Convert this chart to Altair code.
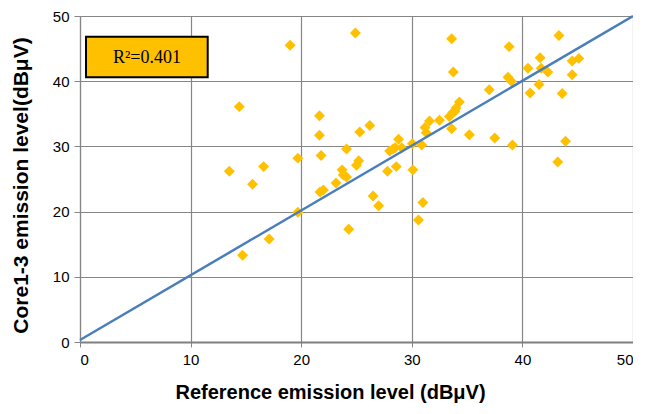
import altair as alt
import pandas as pd

# Reference emission level (dBµV) for each measured point
ref_level = [13.5, 14.4, 14.7, 15.6, 16.6, 17.1, 19.0, 19.7, 19.7, 21.65,
             21.65, 21.8, 21.7, 22.0, 23.15, 23.7, 23.8, 24.1, 24.1, 24.3,
             24.9, 25.0, 25.2, 25.3, 26.2, 26.5, 27.0, 27.8, 28.0, 28.3,
             28.5, 29.1, 28.6, 28.8, 30.1, 30.05, 30.6, 30.9, 31.0, 31.2,
             31.3, 31.6, 32.5, 33.4, 33.7, 33.9, 34.0, 34.3, 33.6, 33.6,
             33.75, 35.2, 37.0, 37.5, 38.8, 38.7, 39.0, 39.1, 40.5, 40.7,
             41.5, 41.6, 41.7, 42.3, 43.3, 43.2, 43.6, 43.9, 44.5, 45.1,
             44.5]
# Core1-3 emission level (dBµV) for each measured point
core_level = [26.2, 36.1, 13.3, 24.2, 26.9, 15.8, 45.5, 28.2, 19.9, 34.7,
              31.7, 28.6, 23.0, 23.3, 24.4, 26.4, 25.6, 25.3, 29.6, 17.3,
              47.4, 27.1, 27.8, 32.2, 33.2, 22.4, 20.9, 26.2, 29.3, 29.6,
              29.8, 29.8, 26.9, 31.1, 26.4, 30.4, 18.7, 30.2, 21.4, 32.9,
              32.1, 33.9, 34.0, 34.6, 35.2, 35.4, 35.9, 36.8, 32.7, 46.5,
              41.4, 31.8, 38.7, 31.3, 45.3, 40.6, 40.0, 30.2, 42.0, 38.2,
              39.5, 43.6, 42.0, 41.4, 47.0, 27.6, 38.1, 30.8, 43.1, 43.5,
              41.0]

# Reference line
fit_x = [0, 50]
fit_y = [0.3, 50]

axis_ticks = [0, 10, 20, 30, 40, 50]
r2_label = ["R\u00b2=0.401"]

pts = pd.DataFrame({"ref": ref_level, "core": core_level})
fit = pd.DataFrame({"ref": fit_x, "core": fit_y})
lab = pd.DataFrame({"t": r2_label})

GRID = "#868686"
FONT = "Liberation Sans"

xs = alt.Scale(domain=[0, 50], nice=False, zero=True)
ys = alt.Scale(domain=[0, 50], nice=False, zero=True)

x_enc = alt.X("ref:Q", scale=xs, axis=alt.Axis(
    values=axis_ticks, title="Reference emission level (dB\u03bcV)",
    grid=True, gridColor=GRID, gridWidth=1.2,
    domainColor="#7f7f7f", domainWidth=2,
    tickColor=GRID, tickSize=5, labelPadding=5,
    labelFont=FONT, labelFontSize=15, labelColor="#000000",
    titleFont=FONT, titleFontSize=20, titleFontWeight="bold", titleColor="#000000",
    titleX=250, titleY=50, titleBaseline="middle", titleAlign="center"))
y_enc = alt.Y("core:Q", scale=ys, axis=alt.Axis(
    values=axis_ticks, title="Core1-3 emission level(dB\u03bcV)",
    grid=True, gridColor=GRID, gridWidth=1.2,
    domainColor=GRID, domainWidth=1.2,
    tickColor=GRID, tickSize=6, labelPadding=5,
    labelFont=FONT, labelFontSize=15, labelColor="#000000",
    titleFont=FONT, titleFontSize=21, titleFontWeight="bold", titleColor="#000000",
    titleX=-59, titleY=169, titleBaseline="middle", titleAlign="center", titleAngle=270))

points = alt.Chart(pts).mark_point(
    shape="diamond", filled=True, size=120, color="#FFC000", opacity=1
).encode(x=x_enc, y=y_enc)

line = alt.Chart(fit).mark_line(color="#4A7EBB", strokeWidth=2.5).encode(
    x=x_enc, y=y_enc)

box = alt.Chart(lab).mark_rect(
    fill="#FFC000", stroke="#000000", strokeWidth=2
).encode(x=alt.value(6), x2=alt.value(127.7), y=alt.value(20.7), y2=alt.value(61.3))

txt = alt.Chart(lab).mark_text(
    font="Liberation Serif", fontSize=18, color="#000000",
    align="center", baseline="middle"
).encode(x=alt.value(67), y=alt.value(41.5), text="t:N")

chart = alt.layer(points, line, box, txt).properties(
    width=553, height=326,
    autosize=alt.AutoSizeParams(type="none"),
    padding={"left": 72, "top": 8, "right": 0, "bottom": 64},
).configure_view(stroke=None).configure(background="white")

chart.save("out.html", embed_options={"renderer": "svg", "actions": False})
